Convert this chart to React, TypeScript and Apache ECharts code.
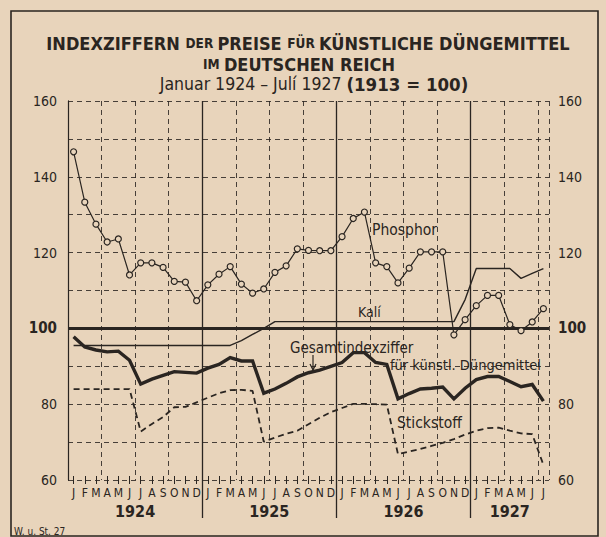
import React, { useEffect, useRef } from 'react';
import * as echarts from 'echarts';

const years = ['1924', '1925', '1926', '1927'];
const monthLetters = ['J', 'F', 'M', 'A', 'M', 'J', 'J', 'A', 'S', 'O', 'N', 'D'];
const monthsPerYear = [12, 12, 12, 7];
const yTickLabels = [60, 80, 100, 120, 140, 160];

const phosphor = [
  146.6, 133.3, 127.5, 122.8, 123.6, 114.1, 117.3, 117.3, 116.1, 112.4, 112.2, 107.3,
  111.5, 114.3, 116.3, 111.7, 109.3, 110.4, 114.8, 116.5, 121.0, 120.6, 120.5, 120.5,
  124.2, 129.0, 130.7, 117.3, 116.3, 112.0, 115.9, 120.2, 120.2, 120.2, 98.3, 102.3,
  106.0, 108.7, 108.7, 101.0, 99.4, 101.7, 105.2,
];
const kali = [
  95.5, 95.5, 95.5, 95.5, 95.5, 95.5, 95.5, 95.5, 95.5, 95.5, 95.5, 95.5,
  95.5, 95.5, 95.5, 96.8, 98.4, 100.0, 101.8, 101.8, 101.8, 101.8, 101.8, 101.8,
  101.8, 101.8, 101.8, 101.8, 101.8, 101.8, 101.8, 101.8, 101.8, 101.8, 101.8, 107.6,
  115.8, 115.8, 115.8, 115.8, 113.2, 114.5, 115.8,
];
const gesamt = [
  97.8, 95.1, 94.3, 93.8, 94.0, 91.6, 85.3, 86.6, 87.6, 88.6, 88.4, 88.2,
  89.5, 90.5, 92.3, 91.4, 91.4, 82.9, 84.0, 85.5, 87.2, 88.3, 89.0, 90.0,
  91.0, 93.6, 93.6, 91.0, 90.5, 81.4, 82.8, 84.0, 84.2, 84.5, 81.4, 84.2,
  86.5, 87.3, 87.3, 86.0, 84.6, 85.2, 80.8,
];
const stickstoff = [
  84.0, 84.0, 84.0, 84.0, 84.0, 84.0, 72.8, 74.8, 76.6, 79.2, 79.3, 80.5,
  81.7, 82.9, 83.7, 83.8, 83.5, 70.1, 71.2, 72.2, 73.0, 74.7, 76.4, 77.9,
  79.0, 80.1, 80.1, 80.0, 79.9, 66.8, 67.5, 68.2, 69.0, 69.8, 70.8, 72.0,
  73.0, 73.7, 73.8, 73.0, 72.3, 72.1, 64.0,
];

const INK = '#2a2521';
const BG = '#e8d4bb';
const FONT = "'DejaVu Sans Condensed', 'Liberation Sans Narrow', 'Roboto', sans-serif";

export default function App() {
  const ref = useRef<HTMLDivElement>(null);

  useEffect(() => {
    if (!ref.current) return;
    const chart = echarts.init(ref.current, undefined, { renderer: 'svg' });

    const categories: string[] = [];
    years.forEach((y, yi) => {
      for (let m = 0; m < monthsPerYear[yi]; m++) categories.push(y + '-' + (m + 1));
    });
    const total = categories.length;
    const yearBounds: number[] = [];
    const yearCenters: number[] = [];
    let acc = 0;
    monthsPerYear.forEach((n, i) => {
      yearCenters.push(acc + n / 2);
      acc += n;
      if (i < monthsPerYear.length - 1) yearBounds.push(acc);
    });
    const monthCenters = categories.map((_, i) => i + 0.5);

    const dashed = [5, 4];

    const option: any = {
      animation: false,
      backgroundColor: BG,
      textStyle: { fontFamily: FONT, color: INK },
      grid: { left: 68, right: 57, top: 101, bottom: 57, containLabel: false },
      xAxis: [
        {
          type: 'category',
          data: categories,
          boundaryGap: true,
          position: 'bottom',
          axisLine: { show: false },
          axisTick: { show: true, alignWithLabel: true, length: 4, lineStyle: { color: INK, width: 1 } },
          axisLabel: {
            interval: 0,
            margin: 7,
            fontSize: 12,
            fontFamily: FONT,
            color: INK,
            formatter: (_v: string, i: number) => monthLetters[i % 12],
          },
          splitLine: {
            show: true,
            interval: (i: number) => i > 0 && i % 3 === 0 && i % 12 !== 0,
            lineStyle: { color: INK, width: 1, type: dashed, opacity: 0.85 },
          },
        },
        {
          type: 'value',
          min: 0,
          max: total,
          position: 'bottom',
          axisLine: { show: false },
          axisTick: {
            show: true,
            customValues: yearBounds,
            length: 38,
            lineStyle: { color: INK, width: 1.3 },
          },
          axisLabel: {
            show: true,
            customValues: yearCenters,
            margin: 23,
            fontSize: 16,
            fontWeight: 'bold',
            fontFamily: FONT,
            color: INK,
            formatter: (v: number) => years[Math.min(years.length - 1, Math.floor(v / 12))],
          },
          splitLine: { show: true, lineStyle: { color: INK, width: 1.3, type: 'solid' } },
        },
        {
          type: 'value',
          min: 0,
          max: total,
          position: 'bottom',
          axisLine: { show: false },
          axisTick: {
            show: true,
            inside: true,
            customValues: monthCenters,
            length: 4,
            lineStyle: { color: INK, width: 1 },
          },
          axisLabel: { show: false },
          splitLine: { show: false },
        },
      ],
      yAxis: [
        {
          type: 'value',
          min: 60,
          max: 160,
          interval: 10,
          position: 'left',
          axisLine: { show: true, lineStyle: { color: INK, width: 1.2 } },
          axisTick: { show: false },
          axisLabel: {
            margin: 11,
            fontSize: 14,
            fontFamily: FONT,
            color: INK,
            formatter: (v: number) =>
              yTickLabels.includes(v) ? (v === 100 ? '{b|' + v + '}' : String(v)) : '',
            rich: { b: { fontSize: 15, fontWeight: 'bold', fontFamily: FONT, color: INK } },
          },
          splitLine: { show: true, lineStyle: { color: INK, width: 1, type: dashed, opacity: 0.85 } },
        },
        {
          type: 'value',
          min: 60,
          max: 160,
          interval: 10,
          position: 'right',
          axisLine: { show: true, lineStyle: { color: INK, width: 1, type: dashed } },
          axisTick: { show: false },
          axisLabel: {
            margin: 9,
            fontSize: 14,
            fontFamily: FONT,
            color: INK,
            formatter: (v: number) =>
              yTickLabels.includes(v) ? (v === 100 ? '{b|' + v + '}' : String(v)) : '',
            rich: { b: { fontSize: 15, fontWeight: 'bold', fontFamily: FONT, color: INK } },
          },
          splitLine: { show: false },
        },
      ],
      series: [
        {
          name: 'Stickstoff',
          type: 'line',
          data: stickstoff,
          symbol: 'none',
          lineStyle: { color: INK, width: 1.8, type: [6, 4] },
          z: 3,
        },
        {
          name: 'Kalí',
          type: 'line',
          data: kali,
          symbol: 'none',
          lineStyle: { color: INK, width: 1.4 },
          z: 3,
          markLine: {
            silent: true,
            symbol: 'none',
            label: { show: false },
            lineStyle: { color: INK, width: 3, type: 'solid' },
            data: [{ yAxis: 100 }],
          },
        },
        {
          name: 'Gesamtindexziffer',
          type: 'line',
          data: gesamt,
          symbol: 'none',
          lineStyle: { color: INK, width: 3.4, join: 'miter' },
          z: 4,
        },
        {
          name: 'Phosphor',
          type: 'line',
          data: phosphor,
          symbol: 'circle',
          symbolSize: 6,
          itemStyle: { color: BG, borderColor: INK, borderWidth: 1.2 },
          lineStyle: { color: INK, width: 1.2 },
          z: 5,
        },
      ],
      graphic: [
        {
          type: 'rect',
          shape: { x: 11, y: 11, width: 587, height: 525 },
          style: { fill: 'none', stroke: INK, lineWidth: 1.6 },
          silent: true,
        },
        {
          type: 'text',
          x: 308,
          y: 43,
          style: {
            text: '{a|INDEXZIFFERN }{s|DER }{a|PREISE }{s|FÜR }{a|KÜNSTLICHE DÜNGEMITTEL}',
            textAlign: 'center',
            textVerticalAlign: 'middle',
            rich: {
              a: { fontSize: 18, fontWeight: 'bold', fontFamily: FONT, fill: INK },
              s: { fontSize: 13.5, fontWeight: 'bold', fontFamily: FONT, fill: INK },
            },
          },
        },
        {
          type: 'text',
          x: 299,
          y: 64,
          style: {
            text: '{s|IM }{a|DEUTSCHEN REICH}',
            textAlign: 'center',
            textVerticalAlign: 'middle',
            rich: {
              a: { fontSize: 18, fontWeight: 'bold', fontFamily: FONT, fill: INK },
              s: { fontSize: 13.5, fontWeight: 'bold', fontFamily: FONT, fill: INK },
            },
          },
        },
        {
          type: 'text',
          x: 314,
          y: 84,
          style: {
            text: '{n|Januar 1924 – Julí 1927 }{b|(1913 = 100)}',
            textAlign: 'center',
            textVerticalAlign: 'middle',
            rich: {
              n: { fontSize: 17.5, fontFamily: FONT, fill: INK },
              b: { fontSize: 18.5, fontWeight: 'bold', fontFamily: FONT, fill: INK },
            },
          },
        },
        {
          type: 'text',
          x: 372,
          y: 230,
          style: { text: 'Phosphor', fontSize: 15.5, fontFamily: FONT, fill: INK, textVerticalAlign: 'middle' },
        },
        {
          type: 'text',
          x: 358,
          y: 312,
          style: { text: 'Kalí', fontSize: 14, fontFamily: FONT, fill: INK, textVerticalAlign: 'middle' },
        },
        {
          type: 'text',
          x: 290,
          y: 348,
          style: { text: 'Gesamtindexziffer', fontSize: 15, fontFamily: FONT, fill: INK, textVerticalAlign: 'middle' },
        },
        {
          type: 'text',
          x: 390,
          y: 365,
          style: { text: 'für künstl. Düngemittel', fontSize: 14.5, fontFamily: FONT, fill: INK, textVerticalAlign: 'middle' },
        },
        {
          type: 'text',
          x: 397,
          y: 423,
          style: { text: 'Stickstoff', fontSize: 15.5, fontFamily: FONT, fill: INK, textVerticalAlign: 'middle' },
        },
        {
          type: 'line',
          shape: { x1: 313, y1: 355, x2: 313, y2: 370 },
          style: { stroke: INK, lineWidth: 1.2 },
        },
        {
          type: 'polyline',
          shape: { points: [[310, 364], [313, 370], [316, 364]] },
          style: { stroke: INK, lineWidth: 1.2, fill: 'none' },
        },
        {
          type: 'text',
          x: 14,
          y: 531,
          style: { text: 'W. u. St. 27', fontSize: 10, fontFamily: FONT, fill: INK, textVerticalAlign: 'middle' },
        },
      ],
    };

    chart.setOption(option);
    return () => chart.dispose();
  }, []);

  return (
    <div
      ref={ref}
      style={{ position: 'fixed', left: 0, top: 0, width: 606, height: 537, background: BG }}
    />
  );
}
